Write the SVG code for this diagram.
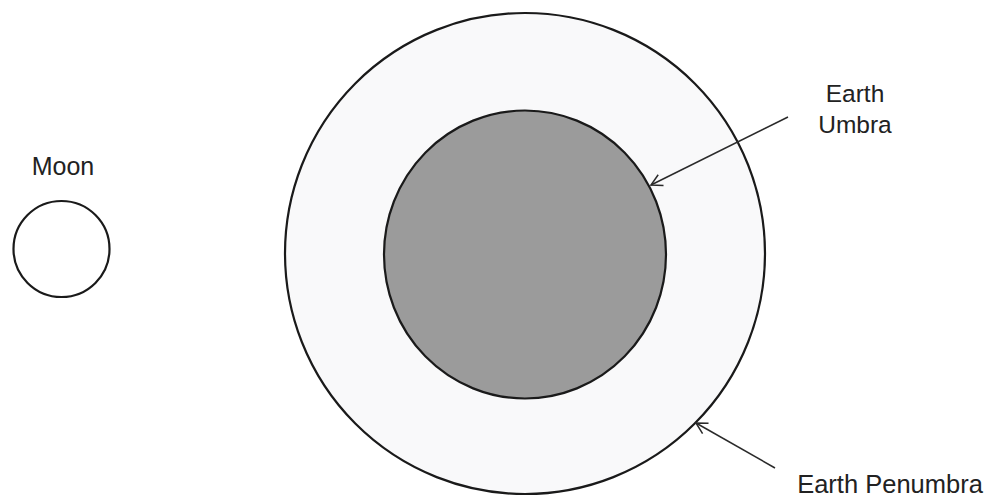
<svg xmlns="http://www.w3.org/2000/svg" width="995" height="499" viewBox="0 0 995 499">
<defs>
<style>
.lbl{font-family:"Liberation Sans",Arial,sans-serif;fill:#222;}
.ring{stroke:#1a1a1a;stroke-width:2.2;}
.conn{stroke:#2a2a2a;stroke-width:1.5;fill:none;marker-end:url(#openArrow);}
</style>
<marker id="openArrow" markerWidth="14" markerHeight="14" refX="12" refY="7" orient="auto" markerUnits="userSpaceOnUse">
<path d="M1,1 L12,7 L1,13" fill="none" stroke="#2a2a2a" stroke-width="1.5"/>
</marker>
</defs>
<rect width="995" height="499" fill="#ffffff"/>
<g id="moon">
<circle cx="61.5" cy="249" r="48" fill="#ffffff" class="ring"/>
<text class="lbl" x="63" y="175" font-size="25" text-anchor="middle">Moon</text>
</g>
<g id="earth-penumbra">
<ellipse cx="525" cy="253.5" rx="240" ry="240.5" fill="#f9f9fa" class="ring"/>
<text class="lbl" x="890" y="493" font-size="25.5" text-anchor="middle">Earth Penumbra</text>
</g>
<g id="earth-umbra">
<ellipse cx="525" cy="254.5" rx="141" ry="144" fill="#9b9b9b" class="ring"/>
<text class="lbl" x="855" y="102" font-size="24.5" text-anchor="middle">Earth</text>
<text class="lbl" x="855" y="133" font-size="24.5" text-anchor="middle">Umbra</text>
</g>
<g id="connectors">
<line class="conn" x1="788" y1="117" x2="651" y2="185"/>
<line class="conn" x1="775" y1="468" x2="696" y2="423"/>
</g>
</svg>
